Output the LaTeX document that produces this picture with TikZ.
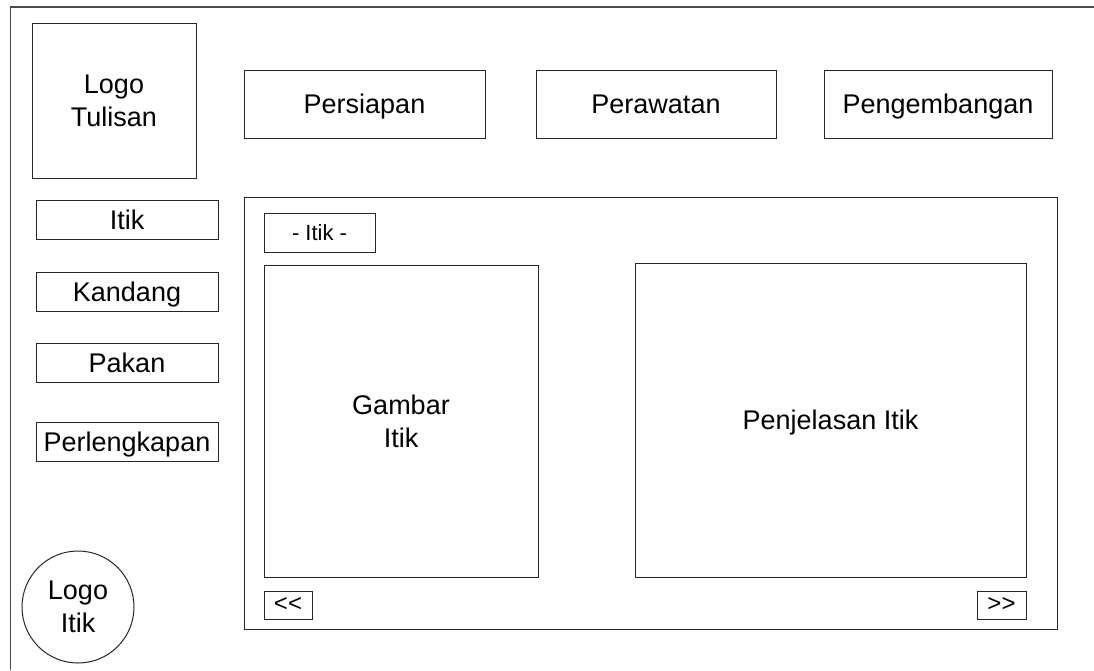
\documentclass[tikz,border=0pt]{standalone}
\usepackage{fontspec}
\setmainfont{Liberation Sans}
\begin{document}
\begin{tikzpicture}[x=1pt,y=-1pt,
  frame/.style={draw=black!70,line width=1.2pt},
  box/.style={draw=black!85,line width=1pt,inner sep=0pt,outer sep=0pt,
    font=\fontsize{27}{33}\selectfont},
  twoline/.style={box,align=center},
  oneline/.style={box,text height=24pt,text depth=4.7pt},
  smallbox/.style={box,font=\fontsize{22}{26}\selectfont,text height=19pt,text depth=3.2pt},
  tinybox/.style={box,font=\fontsize{24}{28}\selectfont,text height=18pt,text depth=5.5pt}]
\useasboundingbox (0,0) rectangle (1094,670);
% page frame (left and top edges)
\coordinate (fbl) at (10.5,670);
\coordinate (ftl) at (10.5,7);
\coordinate (ftr) at (1094,7);
\draw[frame] (fbl) -- (ftl) -- (ftr);

% header
\node[twoline,minimum width=164pt,minimum height=155pt] (logotulisan) at (114,100.5) {Logo\\Tulisan};
\node[oneline,minimum width=241pt,minimum height=68pt] (persiapan) at (364.5,104) {Persiapan};
\node[oneline,minimum width=240pt,minimum height=68pt] (perawatan) at (656,104) {Perawatan};
\node[oneline,minimum width=228pt,minimum height=68pt] (pengembangan) at (938,104) {Pengembangan};

% side menu
\node[oneline,minimum width=182pt,minimum height=39pt] (itik) at (127,219.5) {Itik};
\node[oneline,minimum width=182pt,minimum height=39pt] (kandang) at (127,291.5) {Kandang};
\node[oneline,minimum width=182pt,minimum height=39pt] (pakan) at (127,362.5) {Pakan};
\node[oneline,minimum width=182pt,minimum height=39pt] (perlengkapan) at (127,441.5) {Perlengkapan};
\node[twoline,circle,minimum size=112pt] (logoitik) at (78,607) {Logo\\Itik};

% content panel
\node[box,minimum width=813pt,minimum height=432pt] (panel) at (650.5,413) {};
\node[smallbox,minimum width=111pt,minimum height=39pt] (tab) at (319.5,232.5) {- Itik -};
\node[twoline,minimum width=274pt,minimum height=312pt] (gambar) at (401,421) {Gambar\\Itik};
\node[oneline,minimum width=391pt,minimum height=314pt] (penjelasan) at (830.5,420) {Penjelasan Itik};
\node[tinybox,minimum width=48pt,minimum height=28pt] (prev) at (288,605) {{<}{<}};
\node[tinybox,minimum width=49pt,minimum height=28pt] (next) at (1001.5,605) {{>}{>}};
\end{tikzpicture}
\end{document}
